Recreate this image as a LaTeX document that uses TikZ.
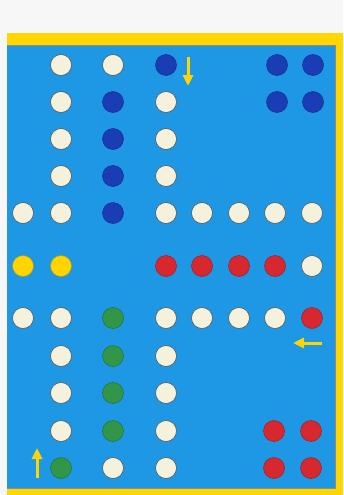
\documentclass[tikz,border=0pt]{standalone}
\usetikzlibrary{arrows.meta}
\definecolor{board}{RGB}{30,152,228}
\definecolor{rim}{RGB}{255,214,0}
\definecolor{cream}{RGB}{244,241,220}
\definecolor{navy}{RGB}{26,60,180}
\definecolor{crimson}{RGB}{214,40,46}
\definecolor{leaf}{RGB}{50,150,72}
\definecolor{sun}{RGB}{255,212,0}
\tikzset{
    piece/.style={circle,minimum size=21pt,inner sep=0pt,fill=#1,draw=#1!75!black,line width=0.5pt},
    hole/.style={circle,minimum size=21pt,inner sep=0pt,fill=cream,draw=black!65,line width=0.6pt},
    hint/.style={draw=sun,line width=3pt,-{Triangle[width=10pt,length=11pt]}}
}
\begin{document}
\begin{tikzpicture}[x=1pt,y=-1pt]

    \useasboundingbox (0,0) rectangle (343,495);
    \fill[black!3] (0,0) rectangle (343,495);
    \fill[rim] (7,33) rectangle (343,495);
    \fill[board] (7,45) rectangle (335,488);
    \draw[black!45,line width=0.5pt] (7,45) -- (335,45) -- (335,488) -- (7,488);

    % track holes
    \foreach \x/\y [count=\i] in {61/65,113/65,61/102,166/102,61/139,166/139,61/176,166/176,
        23/213,61/213,166/213,202/213,239/213,275/213,312/213,312/266,
        23/318,61/318,166/318,202/318,239/318,275/318,
        61/356,166/356,61/393,166/393,61/431,166/431,113/468,166/468}
        \node[hole] (W\i) at (\x,\y) {};

    % blue
    \foreach \x/\y [count=\i] in {166/65,113/102,113/139,113/176,113/213,277/65,313/65,277/102,313/102}
        \node[piece=navy] (B\i) at (\x,\y) {};

    % red
    \foreach \x/\y [count=\i] in {166/266,202/266,239/266,275/266,312/318,274/431,311/431,274/468,311/468}
        \node[piece=crimson] (R\i) at (\x,\y) {};

    % green
    \foreach \x/\y [count=\i] in {113/318,113/356,113/393,113/431,61/468}
        \node[piece=leaf] (G\i) at (\x,\y) {};

    % yellow
    \node[piece=sun] (Y1) at (23,266) {};
    \node[piece=sun] (Y2) at (61,266) {};

    % start arrows
    \coordinate (BS) at (188,57);  \coordinate (BE) at (188,86);
    \coordinate (RS) at (322,343); \coordinate (RE) at (293,343);
    \coordinate (GS) at (37,478);  \coordinate (GE) at (37,448);
    \draw[hint] (BS) -- (BE);
    \draw[hint] (RS) -- (RE);
    \draw[hint] (GS) -- (GE);

\end{tikzpicture}
\end{document}
